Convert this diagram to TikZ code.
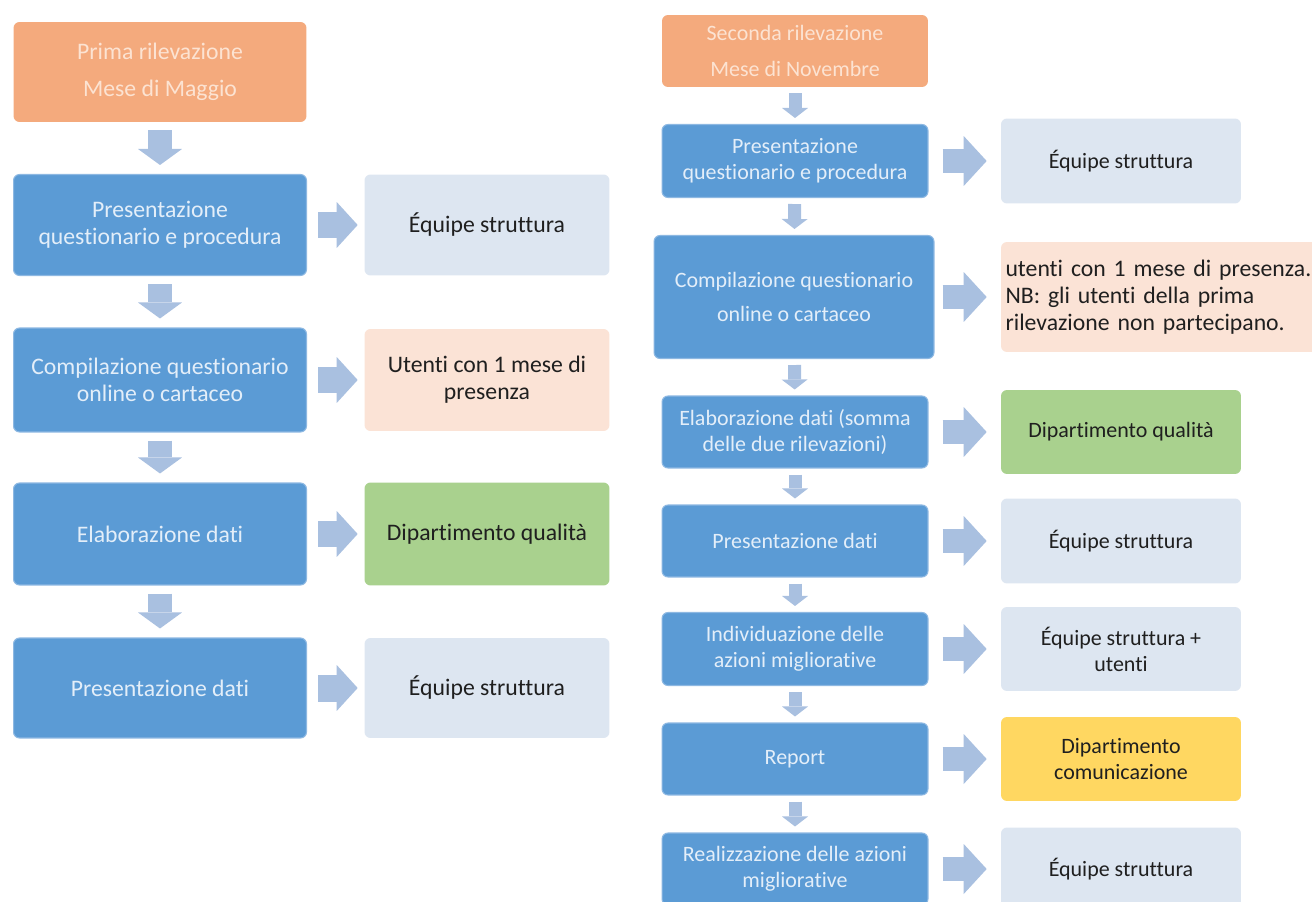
\documentclass[tikz,border=0pt]{standalone}
\usepackage{fontspec}
\setmainfont[Ligatures=NoCommon]{Carlito}
\usetikzlibrary{arrows.meta}

\definecolor{blu}{HTML}{5B9BD5}
\definecolor{bordoblu}{HTML}{8DB8E2}
\definecolor{testoblu}{HTML}{E3EEF9}
\definecolor{arancio}{HTML}{F4AA7D}
\definecolor{testoarancio}{HTML}{FCE3D2}
\definecolor{azzurro}{HTML}{DDE6F1}
\definecolor{rosa}{HTML}{FBE3D6}
\definecolor{verde}{HTML}{A9D18E}
\definecolor{giallo}{HTML}{FFD761}
\definecolor{freccia}{HTML}{A9C0E0}
\definecolor{scuro}{HTML}{1F1F1F}

\newcommand{\testosx}{\fontsize{13.5}{15.5}\selectfont}
\newcommand{\testodx}{\fontsize{12.5}{14.8}\selectfont}
\newcommand{\testonota}{\fontsize{13.5}{15.3}\selectfont}

\begin{document}
\begin{tikzpicture}[x=0.02cm,y=-0.02cm,
    inizio/.style={shape=rectangle,rounded corners=1.2mm,fill=arancio,text=testoarancio,align=center},
    fase/.style={shape=rectangle,rounded corners=1.2mm,fill=blu,draw=bordoblu,line width=0.6pt,text=testoblu,align=center},
    chi/.style={shape=rectangle,rounded corners=1.2mm,fill=azzurro,text=scuro,align=center},
    giu/.style={draw=freccia,line width=0.48cm,-{Triangle[width=0.88cm,length=0.32cm,line width=0pt]},shorten <=0.16cm,shorten >=0.18cm},
    lato/.style={draw=freccia,line width=0.54cm,-{Triangle[width=0.92cm,length=0.42cm,line width=0pt]},shorten <=0.23cm,shorten >=0.13cm},
    giudx/.style={draw=freccia,line width=0.26cm,-{Triangle[width=0.52cm,length=0.2cm,line width=0pt]},shorten <=0.12cm,shorten >=0.12cm},
    latodx/.style={draw=freccia,line width=0.48cm,-{Triangle[width=1cm,length=0.46cm,line width=0pt]},shorten <=0.28cm,shorten >=0.28cm}]
    \useasboundingbox[fill=white] (0,0) rectangle (1312,902);

    % prima rilevazione
    \node[inizio,minimum width=5.86cm,minimum height=2cm,font=\testosx](L0) at (160,72) {Prima rilevazione\\[5.5pt]Mese di Maggio};
    \node[fase,minimum width=5.86cm,minimum height=2.02cm,font=\testosx](L1) at (160,225) {Presentazione\\questionario e procedura};
    \node[fase,minimum width=5.86cm,minimum height=2.08cm,font=\testosx](L2) at (160,380) {Compilazione questionario\\online o cartaceo};
    \node[fase,minimum width=5.86cm,minimum height=2.04cm,font=\testosx](L3) at (160,534) {Elaborazione dati};
    \node[fase,minimum width=5.86cm,minimum height=2cm,font=\testosx](L4) at (160,688) {Presentazione dati};
    \node[chi,minimum width=4.9cm,minimum height=2.02cm,font=\testosx](LA1) at (487,225) {Équipe struttura};
    \node[chi,fill=rosa,minimum width=4.9cm,minimum height=2.04cm,font=\testosx](LA2) at (487,380) {Utenti con 1 mese di\\presenza};
    \node[chi,fill=verde,minimum width=4.9cm,minimum height=2.06cm,font=\testosx](LA3) at (487,534) {Dipartimento qualità};
    \node[chi,minimum width=4.9cm,minimum height=2cm,font=\testosx](LA4) at (487,688) {Équipe struttura};

    \path (L0) edge[giu] (L1)
          (L1) edge[giu] (L2)
          (L2) edge[giu] (L3)
          (L3) edge[giu] (L4)
          (L1) edge[lato] (LA1)
          (L2) edge[lato] (LA2)
          (L3) edge[lato] (LA3)
          (L4) edge[lato] (LA4);

    % seconda rilevazione
    \node[inizio,minimum width=5.32cm,minimum height=1.44cm,font=\testodx](R0) at (795,51) {Seconda rilevazione\\[6pt]Mese di Novembre};
    \node[fase,minimum width=5.32cm,minimum height=1.46cm,font=\testodx](R1) at (795,161) {Presentazione\\questionario e procedura};
    \node[fase,minimum width=5.6cm,minimum height=2.46cm,font=\testodx](R2) at (794,297) {Compilazione questionario\\[5pt]online o cartaceo};
    \node[fase,minimum width=5.32cm,minimum height=1.44cm,font=\testodx](R3) at (795,432) {Elaborazione dati (somma\\delle due rilevazioni)};
    \node[fase,minimum width=5.32cm,minimum height=1.44cm,font=\testodx](R4) at (795,541) {Presentazione dati};
    \node[fase,minimum width=5.32cm,minimum height=1.46cm,font=\testodx](R5) at (795,649) {Individuazione delle\\azioni migliorative};
    \node[fase,minimum width=5.32cm,minimum height=1.44cm,font=\testodx](R6) at (795,759) {Report};
    \node[fase,minimum width=5.32cm,minimum height=1.44cm,font=\testodx](R7) at (795,869) {Realizzazione delle azioni\\migliorative};
    \node[chi,minimum width=4.8cm,minimum height=1.7cm,font=\testodx](RA1) at (1121,161) {Équipe struttura};
    \node[chi,fill=rosa,minimum width=6.38cm,minimum height=2.2cm,inner xsep=0pt,text width=6.2cm,align=left,font=\testonota](RA2) at (1160.5,297) {utenti con 1 mese di presenza.\\NB: gli utenti della prima\\rilevazione non partecipano.};
    \node[chi,fill=verde,minimum width=4.8cm,minimum height=1.68cm,font=\testodx](RA3) at (1121,432) {Dipartimento qualità};
    \node[chi,minimum width=4.8cm,minimum height=1.7cm,font=\testodx](RA4) at (1121,541) {Équipe struttura};
    \node[chi,minimum width=4.8cm,minimum height=1.68cm,font=\testodx](RA5) at (1121,649) {Équipe struttura +\\utenti};
    \node[chi,fill=giallo,minimum width=4.8cm,minimum height=1.68cm,font=\testodx](RA6) at (1121,759) {Dipartimento\\comunicazione};
    \node[chi,minimum width=4.8cm,minimum height=1.66cm,font=\testodx](RA7) at (1121,869) {Équipe struttura};

    \path (R0) edge[giudx] (R1)
          (R1) edge[giudx] (R2)
          (R2) edge[giudx] (R3)
          (R3) edge[giudx] (R4)
          (R4) edge[giudx] (R5)
          (R5) edge[giudx] (R6)
          (R6) edge[giudx] (R7)
          (R1) edge[latodx] (RA1)
          (R2) edge[latodx,shorten <=0.16cm] (RA2)
          (R3) edge[latodx] (RA3)
          (R4) edge[latodx] (RA4)
          (R5) edge[latodx] (RA5)
          (R6) edge[latodx] (RA6)
          (R7) edge[latodx] (RA7);
\end{tikzpicture}
\end{document}
